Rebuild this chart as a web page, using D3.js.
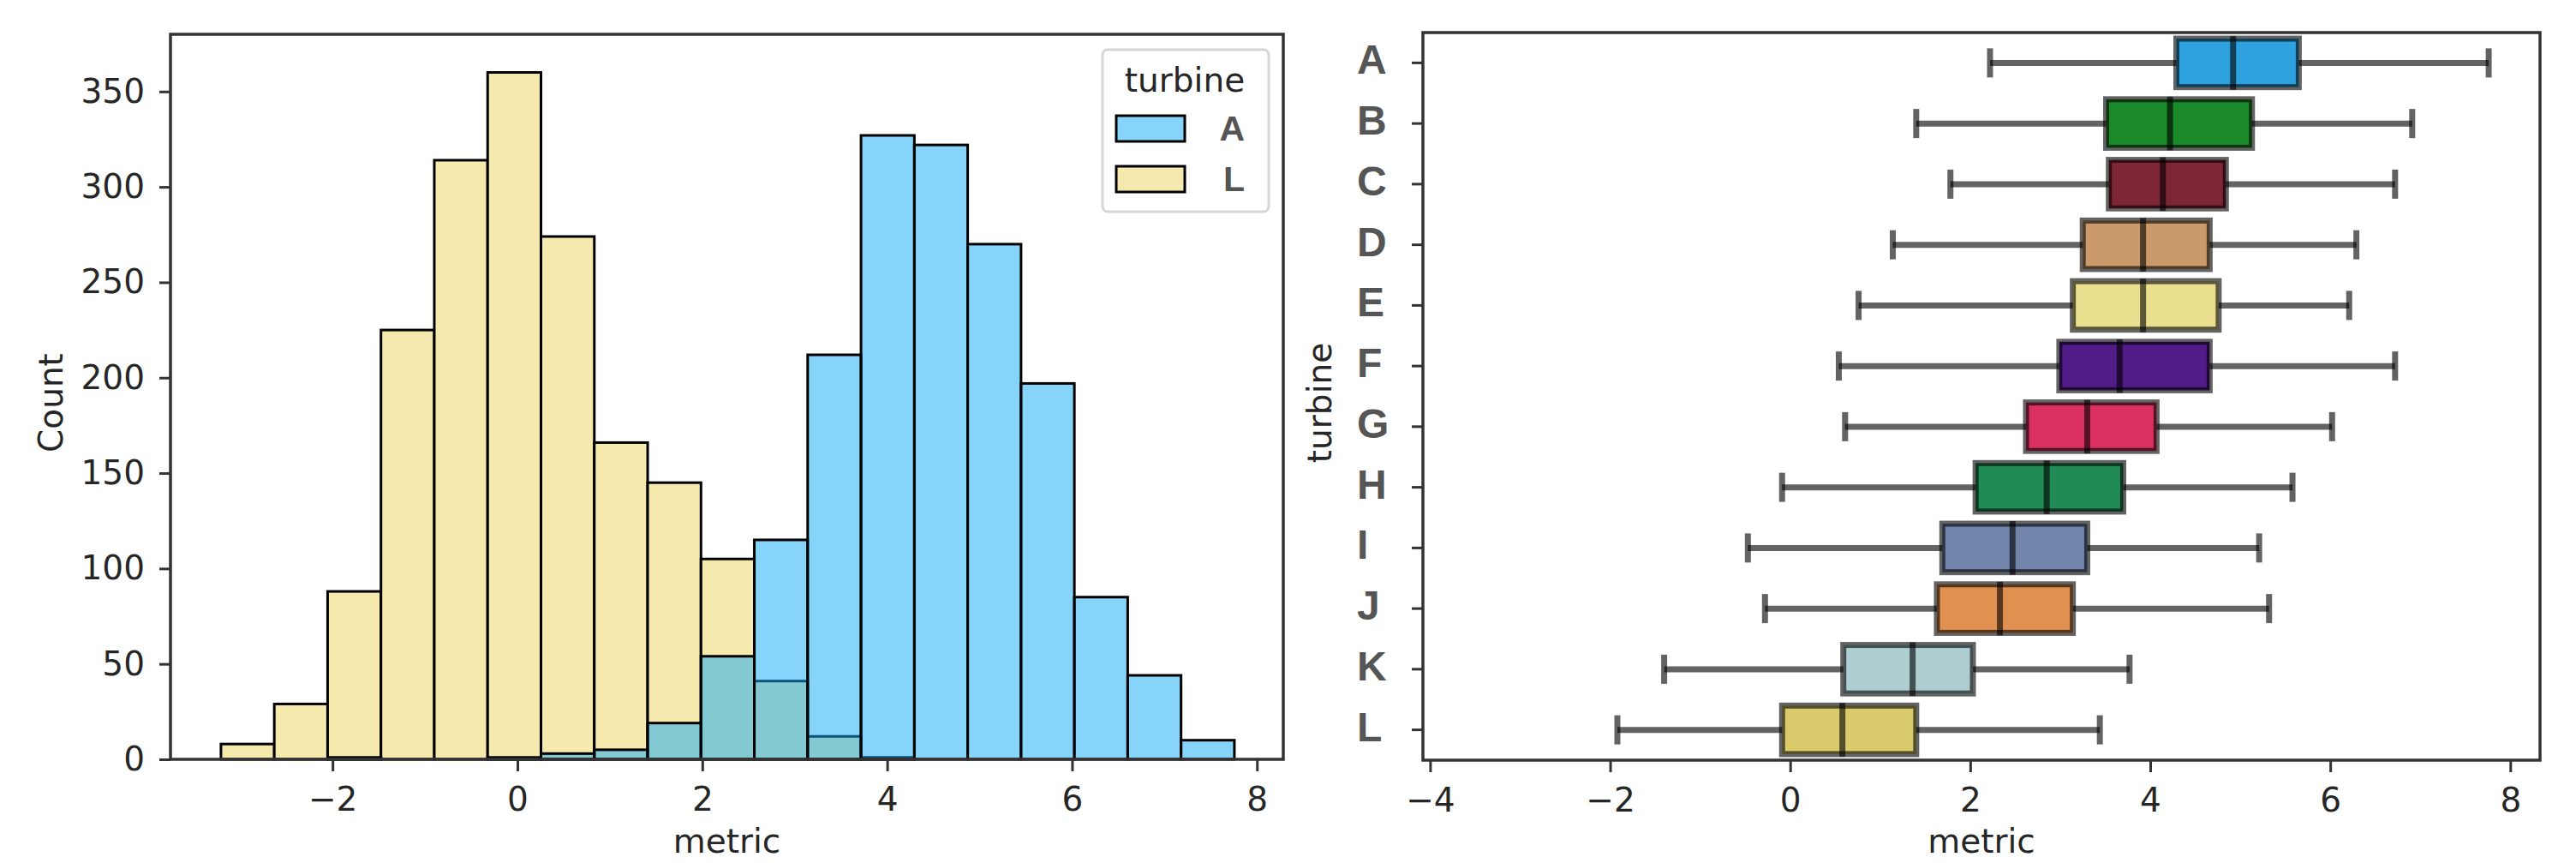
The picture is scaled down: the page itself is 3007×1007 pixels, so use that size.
<!DOCTYPE html>
<html>
<head>
<meta charset="utf-8">
<script src="https://cdn.jsdelivr.net/npm/d3@7"></script>
<style>
  body { margin: 0; background: #fff; }
  text { font-family: "DejaVu Sans", sans-serif; fill: #262626; }
</style>
</head>
<body>
<svg id="chart" width="3007" height="1007"></svg>
<script>
// ---- histogram (left) ----
const binEdges = [-3.207, -2.630, -2.053, -1.476, -0.899, -0.322, 0.255, 0.832, 1.409, 1.986,
                  2.563, 3.140, 3.717, 4.294, 4.871, 5.448, 6.025, 6.602, 7.179, 7.756];
const countL = [8, 29, 88, 225, 314, 360, 274, 166, 145, 105, 41, 12, 1, 0, 0, 0, 0, 0, 0];
const countA = [0, 0, 1, 0, 0, 1, 3, 5, 19, 54, 115, 212, 327, 322, 270, 197, 85, 44, 10];
const countTicks = [0, 50, 100, 150, 200, 250, 300, 350];
const histTicks = [-2, 0, 2, 4, 6, 8];

// ---- boxplot (right) ----
const turbines = ["A", "B", "C", "D", "E", "F", "G", "H", "I", "J", "K", "L"];
const whiskLo = [2.22, 1.40, 1.78, 1.14, 0.76, 0.54, 0.61, -0.09, -0.47, -0.28, -1.40, -1.92];
const q1      = [4.29, 3.51, 3.54, 3.25, 3.14, 2.99, 2.62, 2.06, 1.69, 1.63, 0.59, -0.09];
const medians = [4.92, 4.22, 4.14, 3.92, 3.92, 3.66, 3.30, 2.85, 2.47, 2.33, 1.36, 0.58];
const q3      = [5.65, 5.13, 4.84, 4.66, 4.76, 4.66, 4.07, 3.70, 3.30, 3.14, 2.03, 1.40];
const whiskHi = [7.76, 6.91, 6.72, 6.29, 6.21, 6.72, 6.02, 5.58, 5.21, 5.32, 3.77, 3.44];
const boxColors = ["#2ea2df", "#1b8a2b", "#7e2637", "#cb9a6a", "#eadf8e", "#521c88",
                   "#db3062", "#218b57", "#7286ac", "#e0904f", "#aecdd0", "#d9ca6b"];
const boxTicks = [-4, -2, 0, 2, 4, 6, 8];

const svg = d3.select("#chart");
const fmt = d3.format("");   // d3 uses the unicode minus

// colours for the two hist series
const fillL = "#f5e9ad";
const fillA = "rgb(15,170,245)";

// ================= left panel =================
var xH = d3.scaleLinear().domain([-3.753, 8.285]).range([199, 1498]);
var yH = d3.scaleLinear().domain([0, 380]).range([886, 40]);

const bins = binEdges.slice(0, -1).map((e, i) => ({ x0: e, x1: binEdges[i + 1], L: countL[i], A: countA[i] }));

const hist = svg.append("g");

// L first, A layered on top with alpha
hist.append("g")
    .selectAll("rect")
    .data(bins.filter(d => d.L > 0))
    .join("rect")
    .attr("x", d => xH(d.x0))
    .attr("width", d => xH(d.x1) - xH(d.x0))
    .attr("y", d => yH(d.L))
    .attr("height", d => yH(0) - yH(d.L))
    .attr("fill", fillL)
    .attr("stroke", "#000")
    .attr("stroke-width", 3);

hist.append("g")
    .selectAll("rect")
    .data(bins.filter(d => d.A > 0))
    .join("rect")
    .attr("x", d => xH(d.x0))
    .attr("width", d => xH(d.x1) - xH(d.x0))
    .attr("y", d => yH(d.A))
    .attr("height", d => yH(0) - yH(d.A))
    .attr("fill", fillA)
    .attr("fill-opacity", 0.5)
    .attr("stroke", "#000")
    .attr("stroke-width", 3);

// axes
var axH = svg.append("g")
    .attr("transform", "translate(0,886)")
    .call(d3.axisBottom(xH).tickValues(histTicks).tickFormat(fmt).tickSize(14).tickPadding(18));
var ayH = svg.append("g")
    .attr("transform", "translate(199,0)")
    .call(d3.axisLeft(yH).tickValues(countTicks).tickSize(13).tickPadding(17));

// frame
svg.append("rect")
    .attr("x", 199).attr("y", 40)
    .attr("width", 1498 - 199).attr("height", 886 - 40)
    .attr("fill", "none").attr("stroke", "#333").attr("stroke-width", 3.5);

svg.append("text")
    .attr("x", (199 + 1498) / 2).attr("y", 995)
    .attr("text-anchor", "middle")
    .style("font-size", "39px")
    .text("metric");

svg.append("text")
    .attr("transform", "translate(73,470) rotate(-90)")
    .attr("text-anchor", "middle")
    .style("font-size", "39px")
    .text("Count");

// legend
const leg = svg.append("g");
leg.append("rect")
    .attr("x", 1287).attr("y", 58).attr("width", 194).attr("height", 189)
    .attr("rx", 6)
    .attr("fill", "#fff").attr("fill-opacity", 0.8)
    .attr("stroke", "#d6d6d6").attr("stroke-width", 3);
leg.append("text")
    .attr("x", 1383).attr("y", 107)
    .attr("text-anchor", "middle")
    .style("font-size", "39px")
    .text("turbine");

const legItems = [
    { name: "A", fill: fillA, op: 0.5 },
    { name: "L", fill: fillL, op: 1 }
];
leg.selectAll(".item")
    .data(legItems)
    .join("g")
    .attr("class", "item")
    .attr("transform", (d, i) => `translate(0,${i * 59})`)
    .each(function (d) {
        const g = d3.select(this);
        g.append("rect")
            .attr("x", 1303).attr("y", 135).attr("width", 80).attr("height", 30)
            .attr("fill", d.fill).attr("fill-opacity", d.op)
            .attr("stroke", "#000").attr("stroke-width", 3);
        g.append("text")
            .attr("x", 1453).attr("y", 164)
            .attr("text-anchor", "end")
            .style("font-family", "'Liberation Sans', Arial, sans-serif")
            .style("font-weight", "bold")
            .style("font-size", "41px")
            .style("fill", "#555")
            .text(d.name);
    });

// ================= right panel =================
var xB = d3.scaleLinear().domain([-4.08, 8.33]).range([1661, 2965]);
var yB = d3.scaleBand().domain(turbines).range([38, 887]);
const bw = yB.bandwidth();
const half = bw * 0.4;

const rows = turbines.map((t, i) => ({
    t: t, lo: whiskLo[i], q1: q1[i], med: medians[i], q3: q3[i], hi: whiskHi[i], c: boxColors[i],
    cy: yB(t) + bw / 2
}));

const edge = "rgba(0,0,0,0.61)";
const lw = 7;

const boxes = svg.append("g")
    .selectAll("g")
    .data(rows)
    .join("g");

boxes.append("rect")
    .attr("x", d => xB(d.q1))
    .attr("width", d => xB(d.q3) - xB(d.q1))
    .attr("y", d => d.cy - half)
    .attr("height", 2 * half)
    .attr("fill", d => d.c)
    .attr("stroke", edge)
    .attr("stroke-width", lw);

// whiskers
boxes.append("line")
    .attr("x1", d => xB(d.lo)).attr("x2", d => xB(d.q1))
    .attr("y1", d => d.cy).attr("y2", d => d.cy)
    .attr("stroke", edge).attr("stroke-width", lw);
boxes.append("line")
    .attr("x1", d => xB(d.q3)).attr("x2", d => xB(d.hi))
    .attr("y1", d => d.cy).attr("y2", d => d.cy)
    .attr("stroke", edge).attr("stroke-width", lw);

// caps
boxes.append("line")
    .attr("x1", d => xB(d.lo)).attr("x2", d => xB(d.lo))
    .attr("y1", d => d.cy - 17).attr("y2", d => d.cy + 17)
    .attr("stroke", edge).attr("stroke-width", lw);
boxes.append("line")
    .attr("x1", d => xB(d.hi)).attr("x2", d => xB(d.hi))
    .attr("y1", d => d.cy - 17).attr("y2", d => d.cy + 17)
    .attr("stroke", edge).attr("stroke-width", lw);

// median
boxes.append("line")
    .attr("x1", d => xB(d.med)).attr("x2", d => xB(d.med))
    .attr("y1", d => d.cy - half - 3).attr("y2", d => d.cy + half + 3)
    .attr("stroke", edge).attr("stroke-width", lw);

var axB = svg.append("g")
    .attr("transform", "translate(0,887)")
    .call(d3.axisBottom(xB).tickValues(boxTicks).tickFormat(fmt).tickSize(14).tickPadding(18));
var ayB = svg.append("g")
    .attr("transform", "translate(1661,0)")
    .call(d3.axisLeft(yB).tickSize(13));

ayB.selectAll(".tick text")
    .attr("x", 1584 - 1661)
    .attr("dy", "0.27em")
    .attr("text-anchor", "start")
    .style("font-family", "'Liberation Sans', Arial, sans-serif")
    .style("font-weight", "bold")
    .style("font-size", "48px")
    .style("fill", "#555");

svg.append("rect")
    .attr("x", 1661).attr("y", 38)
    .attr("width", 2965 - 1661).attr("height", 887 - 38)
    .attr("fill", "none").attr("stroke", "#333").attr("stroke-width", 3.5);

svg.append("text")
    .attr("x", (1661 + 2965) / 2).attr("y", 995)
    .attr("text-anchor", "middle")
    .style("font-size", "39px")
    .text("metric");

svg.append("text")
    .attr("transform", "translate(1554,470) rotate(-90)")
    .attr("text-anchor", "middle")
    .style("font-size", "39px")
    .text("turbine");

// common axis styling
[axH, ayH, axB, ayB].forEach(a => {
    a.select(".domain").remove();
    a.selectAll(".tick line").attr("stroke", "#333").attr("stroke-width", 3);
});
[axH, ayH, axB].forEach(a => {
    a.selectAll(".tick text")
        .attr("fill", null)
        .style("font-family", "'DejaVu Sans', sans-serif")
        .style("font-size", "39px")
        .style("fill", "#262626");
});
</script>
</body>
</html>
